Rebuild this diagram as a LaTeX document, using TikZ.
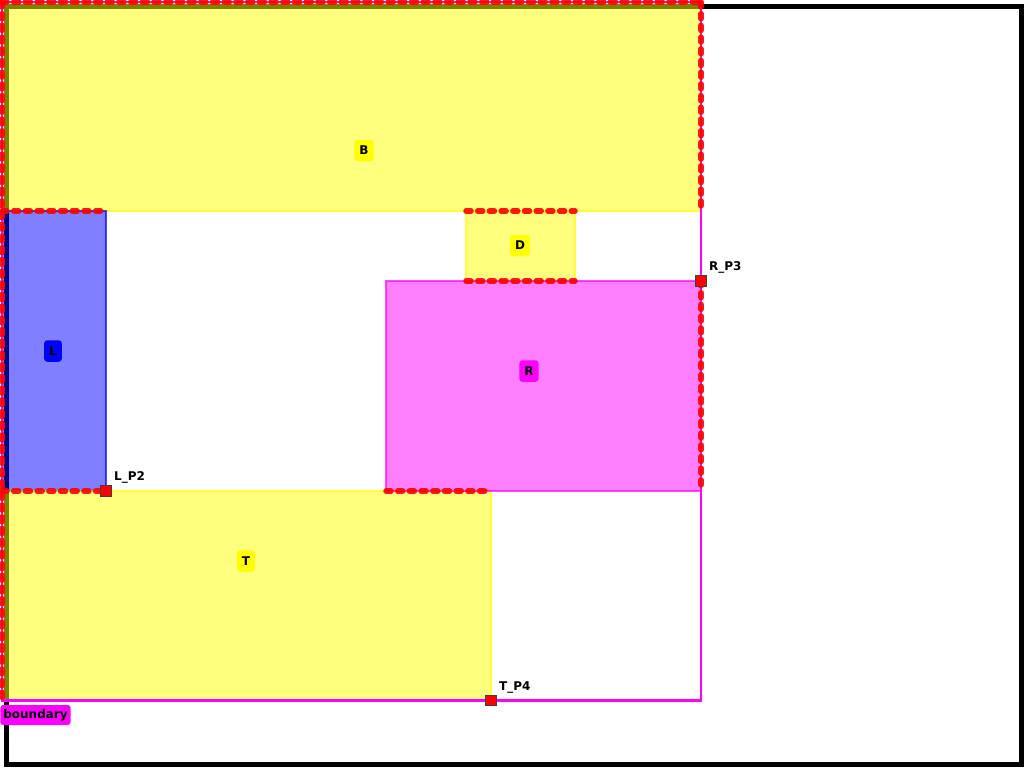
\documentclass[tikz,border=0pt]{standalone}
\usepackage{fontspec}
\setmainfont{DejaVu Sans}
\definecolor{cyel}{RGB}{255,255,0}
\definecolor{cmag}{RGB}{255,0,255}
\definecolor{cblu}{RGB}{0,0,255}
\definecolor{cred}{RGB}{255,0,0}
\begin{document}
\begin{tikzpicture}[x=1pt,y=-1pt,
  region/.style={line width=1.2pt, fill opacity=0.5, draw opacity=0.7},
  shared/.style={draw=cred, draw opacity=0.9, line width=5.5pt, line cap=round, dash pattern=on 5pt off 6.7pt},
  marker/.style={draw=black!75, fill=cred, line width=0.8pt, minimum size=10.5pt, inner sep=0pt},
  ptlbl/.style={anchor=west, inner sep=0pt, font=\fontsize{12}{12}\bfseries},
  lbl/.style={rounded corners=3pt, inner xsep=5pt, inner ysep=0pt, minimum height=21.5pt, font=\fontsize{12}{12}\bfseries, text=black}]
\useasboundingbox (0,0) rectangle (1025,768);
% outer frame
\draw[line width=5pt, black] (6,6.5) rectangle (1021,764);
% regions
\filldraw[region, fill=cyel, draw=cyel] (2,2) rectangle (701,211);
\filldraw[region, fill=cblu, draw=cblu] (2,211) rectangle (106,491);
\filldraw[region, fill=cyel, draw=cyel] (2,491) rectangle (491,700);
\filldraw[region, fill=cyel, draw=cyel] (466,211) rectangle (575,281);
\filldraw[region, fill=cmag, draw=cmag] (386,281) rectangle (701,491);
% boundary
\draw[cmag, line width=2.5pt] (2,2) rectangle (701,700.5);
% coordinates
\coordinate (tl) at (2,2);
\coordinate (tr) at (701,2);
\coordinate (bl) at (2,700);
\coordinate (br1) at (701,211);
\coordinate (rp3) at (701,281);
\coordinate (rb) at (701,491);
\coordinate (l1) at (2,211);
\coordinate (l2) at (106,211);
\coordinate (d1) at (466,211);
\coordinate (d2) at (575,211);
\coordinate (d3) at (466,281);
\coordinate (d4) at (575,281);
\coordinate (t1) at (2,491);
\coordinate (lp2) at (106,491);
\coordinate (r1) at (386,491);
\coordinate (r2) at (488,491);
% shared edges
\draw[shared] (tl) -- (tr);
\draw[shared] (tl) -- (bl);
\draw[shared] (tr) -- (br1);
\draw[shared] (rp3) -- (rb);
\draw[shared] (l1) -- (l2);
\draw[shared] (d1) -- (d2);
\draw[shared] (d3) -- (d4);
\draw[shared] (t1) -- (lp2);
\draw[shared] (r1) -- (r2);
% markers
\node[marker] (mL) at (lp2) {};
\node[marker] (mR) at (rp3) {};
\node[marker] (mT) at (491,700.5) {};
\node[ptlbl] (tL) at (114,477.5) {L\_P2};
\node[ptlbl] (tR) at (709,267.5) {R\_P3};
\node[ptlbl] (tT) at (499,687.5) {T\_P4};
% labels
\node[lbl, fill=cyel] (B) at (364,150.5) {B};
\node[lbl, fill=cyel] (D) at (520,245.5) {D};
\node[lbl, fill=cblu] (L) at (53,351) {L};
\node[lbl, fill=cmag] (R) at (529,371) {R};
\node[lbl, fill=cyel] (T) at (246,561) {T};
\node[lbl, fill=cmag, inner xsep=3pt, minimum height=20pt] (bd) at (35.5,715) {boundary};
\end{tikzpicture}
\end{document}
